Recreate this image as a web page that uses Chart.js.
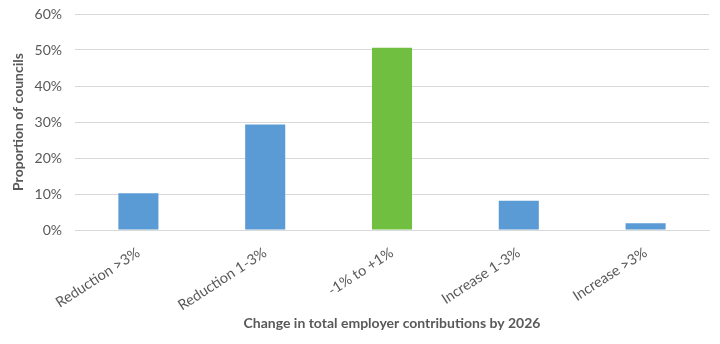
<!DOCTYPE html>
<html>
<head>
<meta charset="utf-8">
<script src="https://cdn.jsdelivr.net/npm/chart.js@4"></script>
<style>
  html, body { margin: 0; padding: 0; background: #fff; }
  #wrap { width: 720px; height: 344px; }
</style>
</head>
<body>
<div id="wrap"><canvas id="myChart" width="720" height="344"></canvas></div>
<script>
var categories = ['Reduction >3%', 'Reduction 1-3%', '-1% to +1%', 'Increase 1-3%', 'Increase >3%'];
var shares = [10.2, 29.3, 50.6, 8.1, 1.9];
var barColors = ['#5B9BD5', '#5B9BD5', '#70BF41', '#5B9BD5', '#5B9BD5'];

Chart.defaults.font.family = 'Lato, "Open Sans", sans-serif';
Chart.defaults.color = '#595959';

var ctx = document.getElementById('myChart').getContext('2d');
var myChart = new Chart(ctx, {
    type: 'bar',
    data: {
        labels: categories,
        datasets: [{
            data: shares,
            backgroundColor: barColors,
            borderWidth: 0,
            barPercentage: 0.316,
            categoryPercentage: 1
        }]
    },
    options: {
        responsive: false,
        animation: false,
        layout: { padding: { top: 0, right: 11, left: 0, bottom: 0 } },
        plugins: {
            legend: { display: false },
            tooltip: { enabled: false }
        },
        scales: {
            x: {
                // fixed sizes so the plot area matches the original
                afterFit: function (scale) {
                    scale.height = 114;
                    scale.paddingLeft = 0;
                },
                grid: { display: false, drawTicks: false },
                border: { color: '#d9d9d9', width: 1 },
                ticks: {
                    maxRotation: 33,
                    minRotation: 33,
                    padding: 14,
                    font: { size: 14.5 },
                    color: '#595959'
                },
                title: {
                    display: true,
                    text: 'Change in total employer contributions by 2026',
                    font: { size: 14, weight: 'bold' },
                    color: '#595959',
                    padding: { top: 4, bottom: 12 }
                }
            },
            y: {
                afterFit: function (scale) {
                    scale.width = 75;
                    scale.paddingTop = 14;
                },
                min: 0,
                max: 60,
                ticks: {
                    stepSize: 10,
                    padding: 13,
                    font: { size: 14 },
                    color: '#595959',
                    callback: function (v) { return v + '%'; }
                },
                grid: { color: '#d9d9d9', drawTicks: false },
                border: { display: false },
                title: {
                    display: true,
                    text: 'Proportion of councils',
                    font: { size: 14, weight: 'bold' },
                    color: '#595959',
                    padding: { top: 10, bottom: 0 }
                }
            }
        }
    }
});
</script>
</body>
</html>
